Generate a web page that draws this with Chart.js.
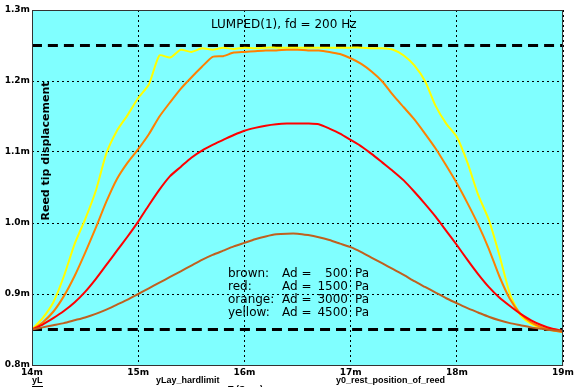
<!DOCTYPE html>
<html>
<head>
<meta charset="utf-8">
<script src="https://cdn.jsdelivr.net/npm/chart.js@4"></script>
<style>
  html, body { margin: 0; padding: 0; background: #fff; }
  #wrap { width: 576px; height: 387px; }
</style>
</head>
<body>
<div id="wrap"><canvas id="grafico"></canvas></div>
<script>
// time axis (m = milliseconds)
const tempos = [14.0, 14.1, 14.2, 14.3, 14.4, 14.5, 14.6, 14.7, 14.8, 14.9,
    15.0, 15.1, 15.2, 15.3, 15.4, 15.5, 15.6, 15.7, 15.8, 15.9,
    16.0, 16.1, 16.2, 16.3, 16.4, 16.5, 16.6, 16.7, 16.8, 16.9,
    17.0, 17.1, 17.2, 17.3, 17.4, 17.5, 17.6, 17.7, 17.8, 17.9,
    18.0, 18.1, 18.2, 18.3, 18.4, 18.5, 18.6, 18.7, 18.8, 18.9, 19.0];

// brown: Ad = 500 Pa
const marrom = [0.850, 0.853, 0.856, 0.859, 0.863, 0.867, 0.872, 0.878, 0.885, 0.892,
    0.900, 0.908, 0.916, 0.924, 0.932, 0.940, 0.948, 0.955, 0.961, 0.967,
    0.972, 0.977, 0.981, 0.984, 0.985, 0.985, 0.983, 0.980, 0.976, 0.971,
    0.966, 0.959, 0.951, 0.943, 0.935, 0.927, 0.918, 0.910, 0.902, 0.894,
    0.887, 0.880, 0.874, 0.868, 0.863, 0.859, 0.856, 0.853, 0.851, 0.849, 0.848];

// red: Ad = 1500 Pa
const vermelho = [0.850, 0.857, 0.866, 0.876, 0.888, 0.903, 0.921, 0.941, 0.961, 0.981,
    1.002, 1.025, 1.047, 1.066, 1.079, 1.092, 1.102, 1.110, 1.117, 1.124,
    1.130, 1.134, 1.137, 1.139, 1.140, 1.140, 1.140, 1.139, 1.133, 1.126,
    1.117, 1.108, 1.097, 1.085, 1.073, 1.060, 1.044, 1.027, 1.009, 0.989,
    0.969, 0.948, 0.928, 0.910, 0.895, 0.883, 0.872, 0.863, 0.856, 0.851, 0.848];

// orange: Ad = 3000 Pa
const laranja = [0.850, 0.860, 0.875, 0.897, 0.925, 0.958, 0.993, 1.030, 1.062, 1.085,
    1.104, 1.125, 1.150, 1.170, 1.189, 1.205, 1.220, 1.234, 1.235, 1.240,
    1.241, 1.242, 1.243, 1.243, 1.244, 1.244, 1.243, 1.243, 1.241, 1.238,
    1.232, 1.224, 1.213, 1.199, 1.180, 1.163, 1.146, 1.126, 1.105, 1.081,
    1.056, 1.028, 0.998, 0.964, 0.925, 0.893, 0.872, 0.860, 0.853, 0.849, 0.846];

// yellow: Ad = 4500 Pa
const amarelo = [0.850, 0.866, 0.888, 0.925, 0.970, 1.005, 1.045, 1.098, 1.130, 1.152,
    1.176, 1.195, 1.236, 1.233, 1.244, 1.241, 1.246, 1.244, 1.247, 1.245,
    1.247, 1.246, 1.247, 1.247, 1.247, 1.247, 1.247, 1.247, 1.247, 1.247,
    1.247, 1.247, 1.246, 1.246, 1.244, 1.236, 1.222, 1.200, 1.165, 1.140,
    1.121, 1.085, 1.040, 1.005, 0.955, 0.900, 0.870, 0.858, 0.852, 0.849, 0.847];

// limits
const limiteX = [14, 19];
const yLayHardlimit = [1.25, 1.25];
const y0Repouso = [0.85, 0.85];

const ticksY = [0.8, 0.9, 1.0, 1.1, 1.2, 1.3];
const ticksX = [14, 15, 16, 17, 18, 19];

const legenda = [
    ['brown:', '500'],
    ['red:', '1500'],
    ['orange:', '3000'],
    ['yellow:', '4500']
];

const fonte = '"DejaVu Sans", Verdana, sans-serif';

function pontos(ys, xs) {
    return ys.map((y, i) => ({ x: xs[i], y: y }));
}

// plot background, frame and texts
const plugFundo = {
    id: 'fundo',
    beforeDraw(chart) {
        const { ctx, chartArea: a } = chart;
        ctx.save();
        ctx.fillStyle = '#80ffff';
        ctx.fillRect(a.left, a.top, a.right - a.left, a.bottom - a.top);
        ctx.restore();
    },
    afterDraw(chart) {
        const { ctx, chartArea: a } = chart;
        ctx.save();
        ctx.strokeStyle = '#333';
        ctx.lineWidth = 1;
        ctx.strokeRect(a.left + 0.5, a.top + 0.5, a.right - a.left - 1, a.bottom - a.top);

        ctx.fillStyle = '#000';
        ctx.textBaseline = 'middle';
        ctx.font = '12px ' + fonte;
        ctx.fillText('LUMPED(1), fd = 200 Hz', 211, 25);

        // legend text block
        ctx.font = '12px ' + fonte;
        legenda.forEach((l, i) => {
            const y = 274 + i * 13;
            ctx.textAlign = 'left';
            ctx.fillText(l[0], 228, y);
            ctx.fillText('Ad =', 282, y);
            ctx.textAlign = 'right';
            ctx.fillText(l[1], 348, y);
            ctx.textAlign = 'left';
            ctx.fillText('Pa', 355, y);
        });

        // y axis title
        ctx.save();
        ctx.translate(46, 151);
        ctx.rotate(-Math.PI / 2);
        ctx.textAlign = 'center';
        ctx.font = 'bold 11px ' + fonte;
        ctx.fillText('Reed tip displacement', 0, 0);
        ctx.restore();

        // trace names under the x axis
        ctx.textAlign = 'left';
        ctx.font = 'bold 9px "Liberation Sans", Arial, sans-serif';
        ctx.fillText('yL', 32, 381);
        ctx.fillRect(32, 386, 11, 1);
        ctx.fillText('yLay_hardlimit', 156, 381);
        ctx.fillText('y0_rest_position_of_reed', 336, 381);
        ctx.textBaseline = 'top';
        ctx.fillText('T (Secs)', 228, 385);
        ctx.restore();
    }
};

const ctx = document.getElementById('grafico').getContext('2d');

new Chart(ctx, {
    type: 'line',
    data: {
        datasets: [
            {
                label: 'brown',
                data: pontos(marrom, tempos),
                borderColor: '#c0601e',
                borderWidth: 2
            },
            {
                label: 'red',
                data: pontos(vermelho, tempos),
                borderColor: '#ff0000',
                borderWidth: 2
            },
            {
                label: 'orange',
                data: pontos(laranja, tempos),
                borderColor: '#ff8000',
                borderWidth: 2
            },
            {
                label: 'yellow',
                data: pontos(amarelo, tempos),
                borderColor: '#ffff00',
                borderWidth: 2
            },
            {
                label: 'yLay_hardlimit',
                data: pontos(yLayHardlimit, limiteX),
                borderColor: '#000',
                borderWidth: 3,
                borderDash: [10, 6]
            },
            {
                label: 'y0_rest_position_of_reed',
                data: pontos(y0Repouso, limiteX),
                borderColor: '#000',
                borderWidth: 3,
                borderDash: [10, 6]
            }
        ]
    },
    options: {
        responsive: true,
        maintainAspectRatio: false,
        animation: false,
        layout: { padding: { top: 10, right: 7, left: 0, bottom: 0 } },
        elements: {
            point: { radius: 0 },
            line: { tension: 0.2, fill: false }
        },
        plugins: {
            legend: { display: false },
            tooltip: { enabled: false }
        },
        scales: {
            x: {
                type: 'linear',
                min: 14,
                max: 19,
                afterBuildTicks: function (scale) {
                    scale.ticks = ticksX.map(v => ({ value: v }));
                },
                afterFit: function (scale) { scale.height = 22; },
                grid: { color: '#000', lineWidth: 1, drawTicks: false },
                border: { display: false, dash: [2, 3] },
                ticks: {
                    padding: 2,
                    color: '#000',
                    font: { family: fonte, size: 9, weight: 'bold' },
                    callback: function (value) {
                        return value + 'm';
                    }
                }
            },
            y: {
                min: 0.8,
                max: 1.3,
                afterBuildTicks: function (scale) {
                    scale.ticks = ticksY.map(v => ({ value: v }));
                },
                afterFit: function (scale) { scale.width = 32; },
                grid: { color: '#000', lineWidth: 1, drawTicks: false },
                border: { display: false, dash: [2, 3] },
                ticks: {
                    padding: 2,
                    color: '#000',
                    font: { family: fonte, size: 9, weight: 'bold' },
                    callback: function (value) {
                        return value.toFixed(1) + 'm';
                    }
                }
            }
        }
    },
    plugins: [plugFundo]
});
</script>
</body>
</html>
